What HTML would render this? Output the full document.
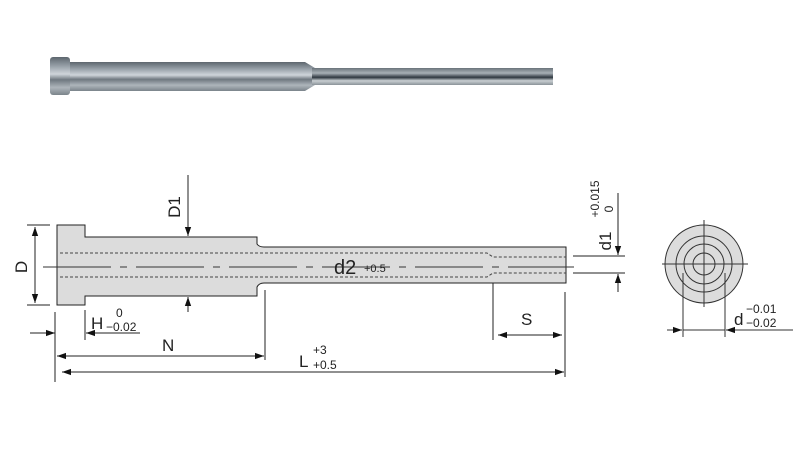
<!DOCTYPE html>
<html><head><meta charset="utf-8"><style>
html,body{margin:0;padding:0;background:#fff;}
svg{display:block;font-family:"Liberation Sans",Arial,sans-serif;}
</style></head><body>
<svg width="800" height="450" viewBox="0 0 800 450" xmlns="http://www.w3.org/2000/svg">
<defs>
<linearGradient id="m" x1="0" y1="0" x2="0" y2="1">
<stop offset="0" stop-color="#5d666e"/><stop offset="0.25" stop-color="#9aa3ab"/><stop offset="0.45" stop-color="#cfd5da"/><stop offset="0.6" stop-color="#6f7880"/><stop offset="0.8" stop-color="#aeb5bb"/><stop offset="1" stop-color="#7b848b"/>
</linearGradient>
<linearGradient id="m2" x1="0" y1="0" x2="0" y2="1">
<stop offset="0" stop-color="#6a737a"/><stop offset="0.3" stop-color="#a8b0b6"/><stop offset="0.55" stop-color="#2f3840"/><stop offset="0.75" stop-color="#c9cfd3"/><stop offset="1" stop-color="#8a9298"/>
</linearGradient>
<marker id="a" viewBox="0 0 10 10" refX="10" refY="5" markerWidth="9" markerHeight="9" orient="auto-start-reverse" markerUnits="userSpaceOnUse"><path d="M0,1.5 L10,5 L0,8.5 z" fill="#111"/></marker>
</defs>
<path d="M68,62 L305,62 L315,68 L553,68 L553,85 L315,85 L305,91 L68,91 z" fill="url(#m)"/>
<rect x="312" y="68" width="241" height="17" fill="url(#m2)"/>
<rect x="50" y="57" width="20" height="38" rx="3" fill="url(#m)"/>
<g stroke="#222" stroke-width="1" fill="#dcdcdc">
<path d="M57,225 L85,225 L85,237 L257,237 L257,244 Q259,247 264,247 L566,247 L566,283 L264,283 Q259,283 257,287 L257,296 L85,296 L85,305 L57,305 z"/>
</g>
<g stroke="#444" stroke-width="1" fill="none" stroke-dasharray="3,2">
<path d="M60,253 L487,253 L493,257 L566,257"/>
<path d="M60,277 L487,277 L493,273 L566,273"/>
</g>
<path d="M43,267 L574,267" stroke="#333" stroke-width="1" stroke-dasharray="68,9,7,9" fill="none"/>
<g stroke="#222" stroke-width="1" fill="none">
<line x1="27" y1="225" x2="50" y2="225"/><line x1="27" y1="305" x2="50" y2="305"/>
<line x1="35" y1="227" x2="35" y2="303" marker-start="url(#a)" marker-end="url(#a)"/>
<line x1="188" y1="175" x2="188" y2="236" marker-end="url(#a)"/>
<line x1="188" y1="312" x2="188" y2="297" marker-end="url(#a)"/>
<line x1="55" y1="312" x2="55" y2="382"/><line x1="85" y1="310" x2="85" y2="340"/>
<line x1="30" y1="333" x2="55" y2="333" marker-end="url(#a)"/>
<line x1="140" y1="333" x2="86" y2="333" marker-end="url(#a)"/>
<line x1="265" y1="290" x2="265" y2="360"/>
<line x1="57" y1="356" x2="264" y2="356" marker-start="url(#a)" marker-end="url(#a)"/>
<line x1="565" y1="292" x2="565" y2="377"/>
<line x1="62" y1="372" x2="564" y2="372" marker-start="url(#a)" marker-end="url(#a)"/>
<line x1="493" y1="283" x2="493" y2="340"/>
<line x1="498" y1="335" x2="562" y2="335" marker-start="url(#a)" marker-end="url(#a)"/>
<line x1="573" y1="256" x2="625" y2="256"/><line x1="573" y1="273" x2="625" y2="273"/>
<line x1="618" y1="193" x2="618" y2="255" marker-end="url(#a)"/>
<line x1="618" y1="292" x2="618" y2="274" marker-end="url(#a)"/>
</g>
<g stroke="#333" stroke-width="1">
<circle cx="704" cy="264" r="39" fill="#dcdcdc"/>
<circle cx="704" cy="264" r="28" fill="none"/>
<circle cx="704" cy="264" r="20" fill="none"/>
<circle cx="704" cy="264" r="11" fill="none"/>
<line x1="662" y1="264" x2="748" y2="264"/><line x1="704" y1="220" x2="704" y2="307"/>
<line x1="683" y1="273" x2="683" y2="337"/><line x1="725" y1="273" x2="725" y2="337"/>
<line x1="667" y1="330" x2="682" y2="330" marker-end="url(#a)"/>
<line x1="683" y1="330" x2="725" y2="330"/>
<line x1="793" y1="330" x2="726" y2="330" marker-end="url(#a)"/>
</g>
<g fill="#222">
<text x="0" y="0" font-size="17" transform="translate(27,267) rotate(-90)" text-anchor="middle">D</text>
<text x="0" y="0" font-size="17" transform="translate(180,207) rotate(-90)" text-anchor="middle">D1</text>
<text x="91" y="329" font-size="17">H</text>
<text x="116" y="317" font-size="12">0</text>
<text x="106" y="331" font-size="12">−0.02</text>
<text x="162" y="351" font-size="17">N</text>
<text x="299" y="367" font-size="17">L</text>
<text x="313" y="354" font-size="12">+3</text>
<text x="313" y="369" font-size="12">+0.5</text>
<text x="334" y="274" font-size="20">d2</text>
<text x="364" y="272" font-size="11">+0.5</text>
<text x="521" y="325" font-size="17">S</text>
<text x="0" y="0" font-size="17" transform="translate(611,241) rotate(-90)" text-anchor="middle">d1</text>
<text x="0" y="0" font-size="12" transform="translate(599,199) rotate(-90)" text-anchor="middle">+0.015</text>
<text x="0" y="0" font-size="12" transform="translate(613,209) rotate(-90)" text-anchor="middle">0</text>
<text x="734" y="325" font-size="17">d</text>
<text x="746" y="313" font-size="12">−0.01</text>
<text x="746" y="327" font-size="12">−0.02</text>
</g>
</svg>
</body></html>
